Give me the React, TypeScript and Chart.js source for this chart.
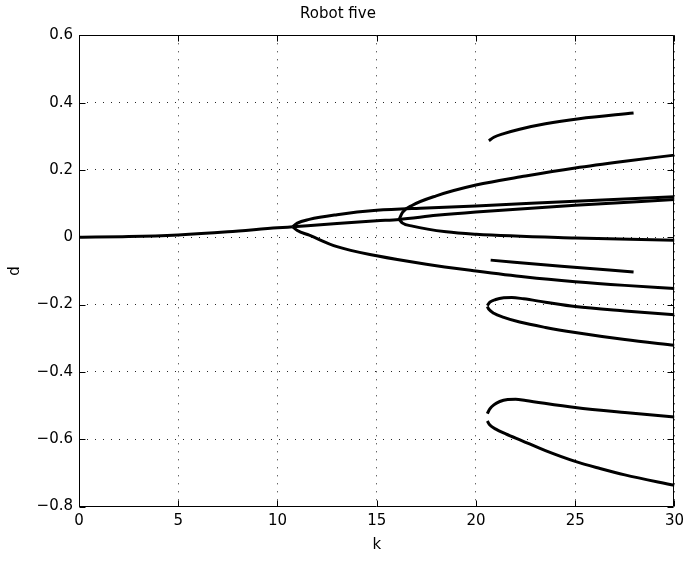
import { useEffect, useRef } from 'react';
import { Chart, registerables } from 'chart.js';

Chart.register(...registerables);

// Branch data: gain k versus displacement d
const trunkK = [0, 2.5, 5, 7.5, 10, 10.77];
const trunkD = [0, 0.002, 0.007, 0.016, 0.028, 0.031];

const firstUpperK = [10.77, 11.0, 11.6, 13, 15, 17.5, 20, 25, 30];
const firstUpperD = [0.031, 0.042, 0.053, 0.067, 0.080, 0.087, 0.093, 0.107, 0.120];

const middleK = [10.77, 13, 15, 16.13, 18, 20, 25, 30];
const middleD = [0.031, 0.041, 0.049, 0.053, 0.065, 0.075, 0.095, 0.112];

const firstLowerK = [10.77, 11.0, 11.6, 13, 15, 17.5, 20, 22.5, 25, 27.5, 30];
const firstLowerD = [0.031, 0.02, 0.006, -0.028, -0.055, -0.08, -0.1, -0.118, -0.132, -0.143, -0.152];

const secondUpperK = [16.13, 16.3, 16.8, 18, 20, 22.5, 25, 27.5, 30];
const secondUpperD = [0.053, 0.074, 0.095, 0.123, 0.155, 0.182, 0.206, 0.226, 0.244];

const secondLowerK = [16.13, 16.3, 16.8, 18.5, 20, 25, 30];
const secondLowerD = [0.053, 0.042, 0.033, 0.016, 0.009, -0.002, -0.009];

const topIsleK = [20.65, 20.9, 21.4, 22.2, 23.5, 25.2, 27.94];
const topIsleD = [0.287, 0.297, 0.308, 0.321, 0.337, 0.352, 0.369];

const midIsleK = [20.74, 24.3, 27.94];
const midIsleD = [-0.068, -0.086, -0.103];

const loopAUpperK = [20.57, 20.7, 21.0, 21.4, 21.8, 22.4, 23.5, 25, 27.5, 30];
const loopAUpperD = [-0.203, -0.193, -0.185, -0.18, -0.179, -0.183, -0.193, -0.206, -0.219, -0.23];

const loopALowerK = [20.57, 20.65, 20.9, 21.4, 22.2, 23.5, 25, 27.5, 30];
const loopALowerD = [-0.206, -0.214, -0.226, -0.238, -0.252, -0.268, -0.283, -0.304, -0.321];

const loopBUpperK = [20.57, 20.7, 20.9, 21.2, 21.6, 22.0, 22.5, 25, 27.5, 30];
const loopBUpperD = [-0.524, -0.51, -0.498, -0.488, -0.482, -0.481, -0.485, -0.506, -0.521, -0.534];

const loopBLowerK = [20.57, 20.7, 21.0, 21.5, 22.3, 23.5, 25, 26.25, 27.5, 30];
const loopBLowerD = [-0.546, -0.558, -0.57, -0.584, -0.604, -0.634, -0.666, -0.687, -0.706, -0.737];

const branches: [number[], number[]][] = [
  [trunkK, trunkD],
  [firstUpperK, firstUpperD],
  [middleK, middleD],
  [firstLowerK, firstLowerD],
  [secondUpperK, secondUpperD],
  [secondLowerK, secondLowerD],
  [topIsleK, topIsleD],
  [midIsleK, midIsleD],
  [loopAUpperK, loopAUpperD],
  [loopALowerK, loopALowerD],
  [loopBUpperK, loopBUpperD],
  [loopBLowerK, loopBLowerD],
];

const kTicks = [0, 5, 10, 15, 20, 25, 30];
const dTicks = [-0.8, -0.6, -0.4, -0.2, 0, 0.2, 0.4, 0.6];

const FONT = "'DejaVu Sans', Verdana, sans-serif";
const FONT_SIZE = 15;

const fmtD = (v: number) => {
  const r = Math.round(v * 10) / 10;
  if (r === 0) return '0';
  return r.toFixed(1).replace('-', '\u2212');
};

// Closed axes box with inward tick marks on all four sides
const boxPlugin = {
  id: 'axesBox',
  afterDraw(chart: any) {
    const { ctx, chartArea: a, scales } = chart;
    const xs = scales.x;
    const ys = scales.y;
    const len = 6;
    ctx.save();
    ctx.strokeStyle = '#000';
    ctx.lineWidth = 1;
    ctx.beginPath();
    const L = Math.round(a.left) + 0.5;
    const R = Math.round(a.right) - 0.5;
    const T = Math.round(a.top) + 0.5;
    const B = Math.round(a.bottom) - 0.5;
    ctx.rect(L, T, R - L, B - T);
    kTicks.forEach((k) => {
      const px = Math.round(xs.getPixelForValue(k)) + 0.5;
      ctx.moveTo(px, B);
      ctx.lineTo(px, B - len);
      ctx.moveTo(px, T);
      ctx.lineTo(px, T + len);
    });
    dTicks.forEach((d) => {
      const py = Math.round(ys.getPixelForValue(d)) + 0.5;
      ctx.moveTo(L, py);
      ctx.lineTo(L + len, py);
      ctx.moveTo(R, py);
      ctx.lineTo(R - len, py);
    });
    ctx.stroke();
    ctx.restore();
  },
};

export default function App() {
  const canvasRef = useRef<HTMLCanvasElement | null>(null);

  useEffect(() => {
    if (!canvasRef.current) return;
    const datasets = branches.map(([k, d]) => ({
      data: k.map((x, i) => ({ x, y: d[i] })),
      borderColor: '#000',
      borderWidth: 3,
      pointRadius: 0,
      fill: false,
      cubicInterpolationMode: 'monotone' as const,
    }));

    const chart = new Chart(canvasRef.current, {
      type: 'line',
      data: { datasets },
      plugins: [boxPlugin],
      options: {
        animation: false,
        responsive: false,
        devicePixelRatio: 1,
        layout: { padding: { left: 0, right: 14, top: 0, bottom: 0 } },
        plugins: {
          legend: { display: false },
          tooltip: { enabled: false },
          title: {
            display: true,
            text: 'Robot five',
            color: '#000',
            font: { family: FONT, size: FONT_SIZE, weight: 'normal', lineHeight: 1.2 },
            padding: { top: 5, bottom: 12.3 },
          },
        },
        scales: {
          x: {
            type: 'linear',
            min: 0,
            max: 30,
            afterFit: (s: any) => {
              s.height = 54.5;
            },
            afterBuildTicks: (s: any) => {
              s.ticks = kTicks.map((v) => ({ value: v }));
            },
            ticks: {
              color: '#000',
              font: { family: FONT, size: FONT_SIZE },
              padding: 6,
              maxRotation: 0,
              callback: (v: any) => String(v),
            },
            grid: {
              color: 'rgba(0,0,0,0.85)',
              lineWidth: 1,
              drawTicks: false,
            },
            border: { display: false, dash: [1, 7] },
            title: {
              display: true,
              text: 'k',
              color: '#000',
              font: { family: FONT, size: FONT_SIZE },
              padding: { top: 0, bottom: 7 },
            },
          },
          y: {
            type: 'linear',
            min: -0.8,
            max: 0.6,
            afterFit: (s: any) => {
              s.width = 79;
            },
            afterBuildTicks: (s: any) => {
              s.ticks = dTicks.map((v) => ({ value: v }));
            },
            ticks: {
              color: '#000',
              font: { family: FONT, size: FONT_SIZE },
              padding: 6,
              callback: (v: any) => fmtD(Number(v)),
            },
            grid: {
              color: 'rgba(0,0,0,0.85)',
              lineWidth: 1,
              drawTicks: false,
            },
            border: { display: false, dash: [1, 7] },
            title: {
              display: true,
              text: 'd',
              color: '#000',
              font: { family: FONT, size: FONT_SIZE },
              padding: { top: 6, bottom: 0 },
            },
          },
        },
      },
    } as any);

    return () => chart.destroy();
  }, []);

  return (
    <div
      style={{
        position: 'fixed',
        left: 0,
        top: 0,
        width: 690,
        height: 561,
        background: '#fff',
      }}
    >
      <canvas ref={canvasRef} width={690} height={561} />
    </div>
  );
}
